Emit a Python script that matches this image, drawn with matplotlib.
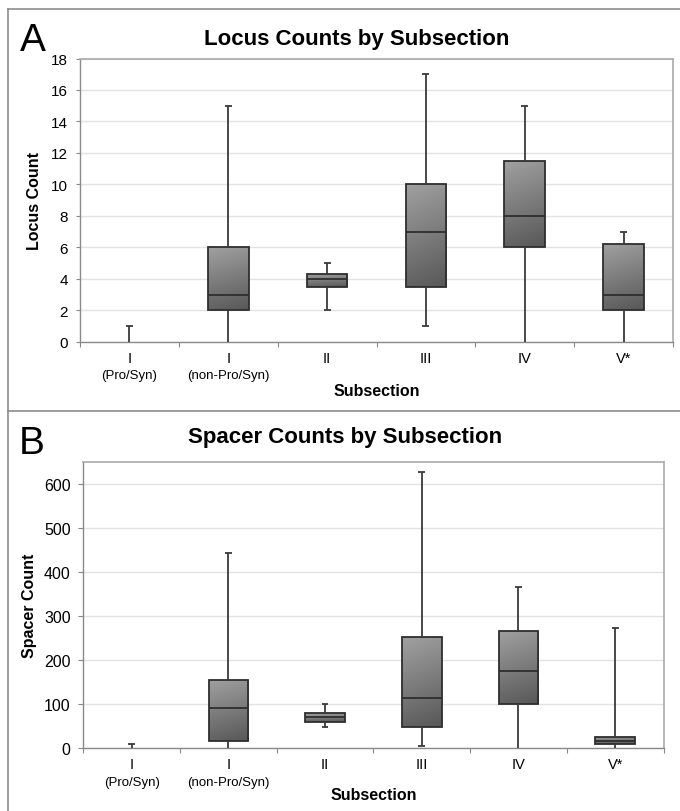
import matplotlib
matplotlib.use("Agg")
import matplotlib.pyplot as plt
import numpy as np
from matplotlib.colors import LinearSegmentedColormap
from matplotlib.lines import Line2D

plt.rcParams['font.family'] = ['Liberation Sans', 'DejaVu Sans']

categories = ["I", "I", "II", "III", "IV", "V*"]
sublabels = ["(Pro/Syn)", "(non-Pro/Syn)", "", "", "", ""]

# Panel A: locus counts (min, q1, median, q3, max)
locus_min = [0, 0, 2, 1, 0, 0]
locus_q1 = [0, 2, 3.45, 3.5, 6, 2]
locus_med = [0, 3, 4, 7, 8, 3]
locus_q3 = [0, 6, 4.28, 10, 11.5, 6.2]
locus_max = [1, 15, 5, 17, 15, 7]

# Panel B: spacer counts
spacer_min = [0, 0, 47, 4, 0, 0]
spacer_q1 = [0, 15, 60, 48, 100, 9]
spacer_med = [0, 90, 70, 113, 175, 16]
spacer_q3 = [0, 155, 80, 252, 267, 25]
spacer_max = [8, 443, 100, 627, 367, 272]

W, H = 680, 812
fig = plt.figure(figsize=(W / 100, H / 100), dpi=100)

cmap = LinearSegmentedColormap.from_list("g", ["#a0a0a0", "#585858"])
EDGE = "#2e2e2e"
WH = "#3a3a3a"


def panel(rect_px, mins, q1s, meds, q3s, maxs, ylim, yticks, ylabel, title,
          title_xy, letter, letter_xy, tick_fs, ytick_len, ypad, lab_y, sub_y,
          xlab_y, ylab_x):
    l, t, r, b = rect_px
    ax = fig.add_axes([l / W, 1 - b / H, (r - l) / W, (b - t) / H])
    n = len(categories)
    xs = np.arange(n)
    bw = 0.41
    capw = 0.035
    grad = np.linspace(0, 1, 60)[:, None] * 0.85 + np.linspace(0, 1, 20)[None, :] * 0.15
    for x, mn, a, m, c, mx in zip(xs, mins, q1s, meds, q3s, maxs):
        if c > a:
            bars = ax.bar(x, c - a, bottom=a, width=bw, facecolor="none",
                          edgecolor=EDGE, linewidth=1.3, zorder=3)
            im = ax.imshow(grad, cmap=cmap, aspect="auto",
                           extent=[x - bw / 2, x + bw / 2, a, c],
                           origin="upper", zorder=2)
            im.set_clip_path(bars.patches[0])
            ax.hlines(m, x - bw / 2, x + bw / 2, color=EDGE, lw=1.3, zorder=4)
        ax.vlines(x, c, mx, color=WH, lw=1.3, zorder=3)
        ax.vlines(x, mn, a, color=WH, lw=1.3, zorder=3)
        ax.hlines(mx, x - capw, x + capw, color=WH, lw=1.3, zorder=3)
        if mn > 0:
            ax.hlines(mn, x - capw, x + capw, color=WH, lw=1.3, zorder=3)
    ax.set_xlim(-0.5, n - 0.5)
    ax.set_ylim(*ylim)
    ax.set_yticks(yticks)
    ax.tick_params(axis="y", labelsize=tick_fs, length=ytick_len, width=0.8,
                   color="#888888", pad=ypad)
    ax.set_xticks(np.arange(-0.5, n, 1.0))
    ax.set_xticklabels([])
    ax.tick_params(axis="x", length=3.6, width=0.8, color="#888888")
    ax.yaxis.grid(True, color="#e2e2e2", lw=1.0)
    ax.set_axisbelow(True)
    for s in ["left", "bottom"]:
        ax.spines[s].set_color("#8a8a8a")
        ax.spines[s].set_linewidth(1.0)
    for s in ["top", "right"]:
        ax.spines[s].set_color("#aaaaaa")
        ax.spines[s].set_linewidth(1.2)
    tr = ax.get_xaxis_transform()
    for x, lab, sub in zip(xs, categories, sublabels):
        ax.text(x, lab_y, lab, transform=tr, ha="center", va="center",
                fontsize=10.5)
        if sub:
            ax.text(x, sub_y, sub, transform=tr, ha="center", va="center",
                    fontsize=9.5)
    ax.text(0.5, xlab_y, "Subsection", transform=ax.transAxes, ha="center",
            va="center", fontsize=11.5, fontweight="bold")
    ax.text(ylab_x, 0.5, ylabel, transform=ax.transAxes, ha="center",
            va="center", rotation=90, fontsize=11.5, fontweight="bold")
    fig.text(title_xy[0] / W, 1 - title_xy[1] / H, title, ha="center",
             va="center", fontsize=16, fontweight="bold")
    fig.text(letter_xy[0] / W, 1 - letter_xy[1] / H, letter, ha="left",
             va="center", fontsize=28)
    return ax


panel((80, 59.5, 673, 342.7), locus_min, locus_q1, locus_med, locus_q3,
      locus_max, (0, 18), np.arange(0, 19, 2), "Locus Count",
      "Locus Counts by Subsection", (357, 39), "A", (20, 41), 11, 2.9, 5.8,
      -0.0576, -0.1176, -0.174, -0.0759)

panel((83.3, 463.3, 663.5, 749), spacer_min, spacer_q1, spacer_med,
      spacer_q3, spacer_max, (0, 650), np.arange(0, 601, 100),
      "Spacer Count", "Spacer Counts by Subsection", (345, 438), "B",
      (19, 444), 11.5, 3.6, 5.5, -0.056, -0.119, -0.1645, -0.0919)

# panel frames
lc = "#8c8c8c"
fig.add_artist(Line2D([7.5 / W, 7.5 / W], [1 - 9.5 / H, 0], color=lc, lw=1.2))
fig.add_artist(Line2D([7.5 / W, 1], [1 - 9.5 / H, 1 - 9.5 / H], color=lc, lw=1.2))
fig.add_artist(Line2D([7.5 / W, 1], [1 - 411.5 / H, 1 - 411.5 / H], color=lc, lw=1.2))

fig.savefig("out.png", dpi=100, facecolor="white")
